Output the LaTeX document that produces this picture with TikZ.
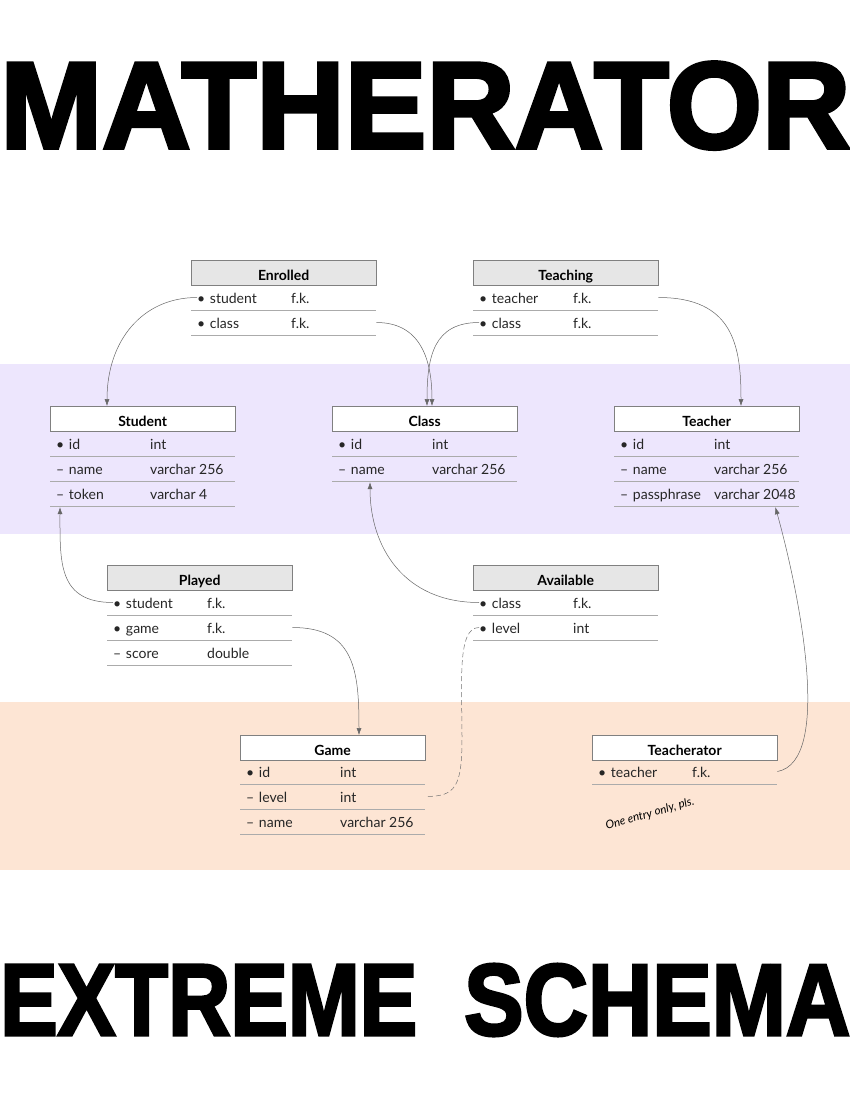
\documentclass[tikz,border=0pt]{standalone}
\usepackage{fontspec}
\setmainfont{Lato}
\newfontfamily\titlefont{Liberation Sans}[BoldFeatures={FakeBold=3}]
\usepackage{tikz}
\usetikzlibrary{calc,backgrounds}
\usetikzlibrary{arrows.meta}
\usetikzlibrary{positioning}
\definecolor{lavender}{HTML}{EDE6FD}
\definecolor{peach}{HTML}{FDE5D4}
\definecolor{headgray}{HTML}{E6E6E6}
\definecolor{boxline}{HTML}{808080}
\definecolor{sepline}{HTML}{ABABAB}
\tikzstyle{schema}=[
  x=1pt,y=-1pt,font=\fontsize{14}{16}\selectfont
]
\tikzstyle{entity}=[
  draw=boxline,fill=white,anchor=north west,minimum width=185pt,
  minimum height=25pt,inner sep=0pt,text height=15pt,text depth=0pt,
  font=\fontsize{14}{16}\selectfont\bfseries
]
\tikzstyle{link}=[
  entity,fill=headgray
]
\tikzstyle{row}=[
  anchor=west,text width=179pt,minimum height=25pt,inner sep=0pt,align=left,
  text height=13pt,text depth=1pt,text=black!85
]
\tikzstyle{rowtype}=[
  anchor=west,inner sep=0pt,text height=13pt,text depth=1pt,text=black!85
]
\tikzstyle{rowline}=[
  draw=sepline,line width=1.2pt
]
\tikzstyle{fk}=[
  draw=black!60,line width=0.5pt,-{Latex[length=7pt,width=5pt]}
]
\tikzstyle{fkdash}=[
  draw=black!55,line width=0.5pt,dash pattern=on 5pt off 3pt
]
\newcommand{\dbrow}[5]{
  \node (#1) [row] at ($(#2,#3)+(6,12.5)$) {#4};
  \node (#1t) [rowtype] at ($(#2,#3)+(100,12.5)$) {#5};
  \draw [rowline] ($(#1.south west)+(-6,0)$) -- (#1.south east);
}

\begin{document}
\begin{tikzpicture}[schema]
  \useasboundingbox (0,0) rectangle (850,1100);
  \fill[white] (0,0) rectangle (850,1100);
  \fill[lavender] (0,364) rectangle (850,534);
  \fill[peach] (0,702) rectangle (850,870);

  % titles
  \node (top) [anchor=base west,inner sep=0pt] at (0,148)
    {\resizebox{850pt}{86pt}{\titlefont\bfseries MATHERATOR}};
  \node (bot1) [anchor=base west,inner sep=0pt] at (0,1035)
    {\resizebox{417pt}{70pt}{\titlefont\bfseries EXTREME}};
  \node (bot2) [anchor=base west,inner sep=0pt] at (464,1035)
    {\resizebox{386pt}{71pt}{\titlefont\bfseries SCHEMA}};

  % link tables
  \node (enrolled) [link] at (191,260) {Enrolled};
  \dbrow{es}{191}{285}{\textbullet\ student}{f.k.}
  \dbrow{ec}{191}{310}{\textbullet\ class}{f.k.}

  \node (teaching) [link] at (473,260) {Teaching};
  \dbrow{tt}{473}{285}{\textbullet\ teacher}{f.k.}
  \dbrow{tc}{473}{310}{\textbullet\ class}{f.k.}

  % entities
  \node (student) [entity] at (50,406) {Student};
  \dbrow{sid}{50}{431}{\textbullet\ id}{int}
  \dbrow{sname}{50}{456}{– name}{varchar 256}
  \dbrow{stoken}{50}{481}{– token}{varchar 4}

  \node (class) [entity] at (332,406) {Class};
  \dbrow{cid}{332}{431}{\textbullet\ id}{int}
  \dbrow{cname}{332}{456}{– name}{varchar 256}

  \node (teacher) [entity] at (614,406) {Teacher};
  \dbrow{tid}{614}{431}{\textbullet\ id}{int}
  \dbrow{tname}{614}{456}{– name}{varchar 256}
  \dbrow{tpass}{614}{481}{– passphrase}{varchar 2048}

  \node (played) [link] at (107,565) {Played};
  \dbrow{ps}{107}{590}{\textbullet\ student}{f.k.}
  \dbrow{pg}{107}{615}{\textbullet\ game}{f.k.}
  \dbrow{psc}{107}{640}{– score}{double}

  \node (available) [link] at (473,565) {Available};
  \dbrow{ac}{473}{590}{\textbullet\ class}{f.k.}
  \dbrow{al}{473}{615}{\textbullet\ level}{int}

  \node (game) [entity] at (240,735) {Game};
  \dbrow{gid}{240}{759}{\textbullet\ id}{int}
  \dbrow{gl}{240}{784}{– level}{int}
  \dbrow{gname}{240}{809}{– name}{varchar 256}

  \node (teacherator) [entity] at (592,735) {Teacherator};
  \dbrow{trt}{592}{759}{\textbullet\ teacher}{f.k.}

  \node (note) [rotate=16,font=\fontsize{11.5}{13}\selectfont\itshape] at (650,814)
    {One entry only, pls.};

  % foreign keys
  \draw [fk] (es.west) .. controls +(-55,0) and +(0,-65) .. ($(student.north west)+(57,0)$);
  \draw [fk] (ec.east) .. controls +(42,0) and +(0,-50) .. ($(class.north west)+(100,0)$);
  \draw [fk] (tc.west) .. controls +(-45,0) and +(0,-50) .. ($(class.north west)+(95,0)$);
  \draw [fk] (tt.east) .. controls +(75,0) and +(0,-60) .. ($(teacher.north west)+(127,0)$);
  \draw [fk] (ps.west) .. controls +(-55,0) and +(0,55) .. ($(stoken.south west)+(4,1)$);
  \draw [fk] (ac.west) .. controls +(-75,0) and +(0,65) .. ($(cname.south west)+(32,1)$);
  \draw [fk] (pg.east) .. controls +(62,0) and +(0,-65) .. ($(game.north west)+(119,0)$);
  \draw [fk] (trt.east) .. controls +(55,-10) and +(25,90) .. ($(tpass.south east)+(-24,1)$);
  \draw [fkdash] (al.west) .. controls +(-22,0) and +(0,-55) .. ($(al.west)+(-17,110)$)
    .. controls +(0,50) and +(30,0) .. (gl.east);
\end{tikzpicture}
\end{document}
